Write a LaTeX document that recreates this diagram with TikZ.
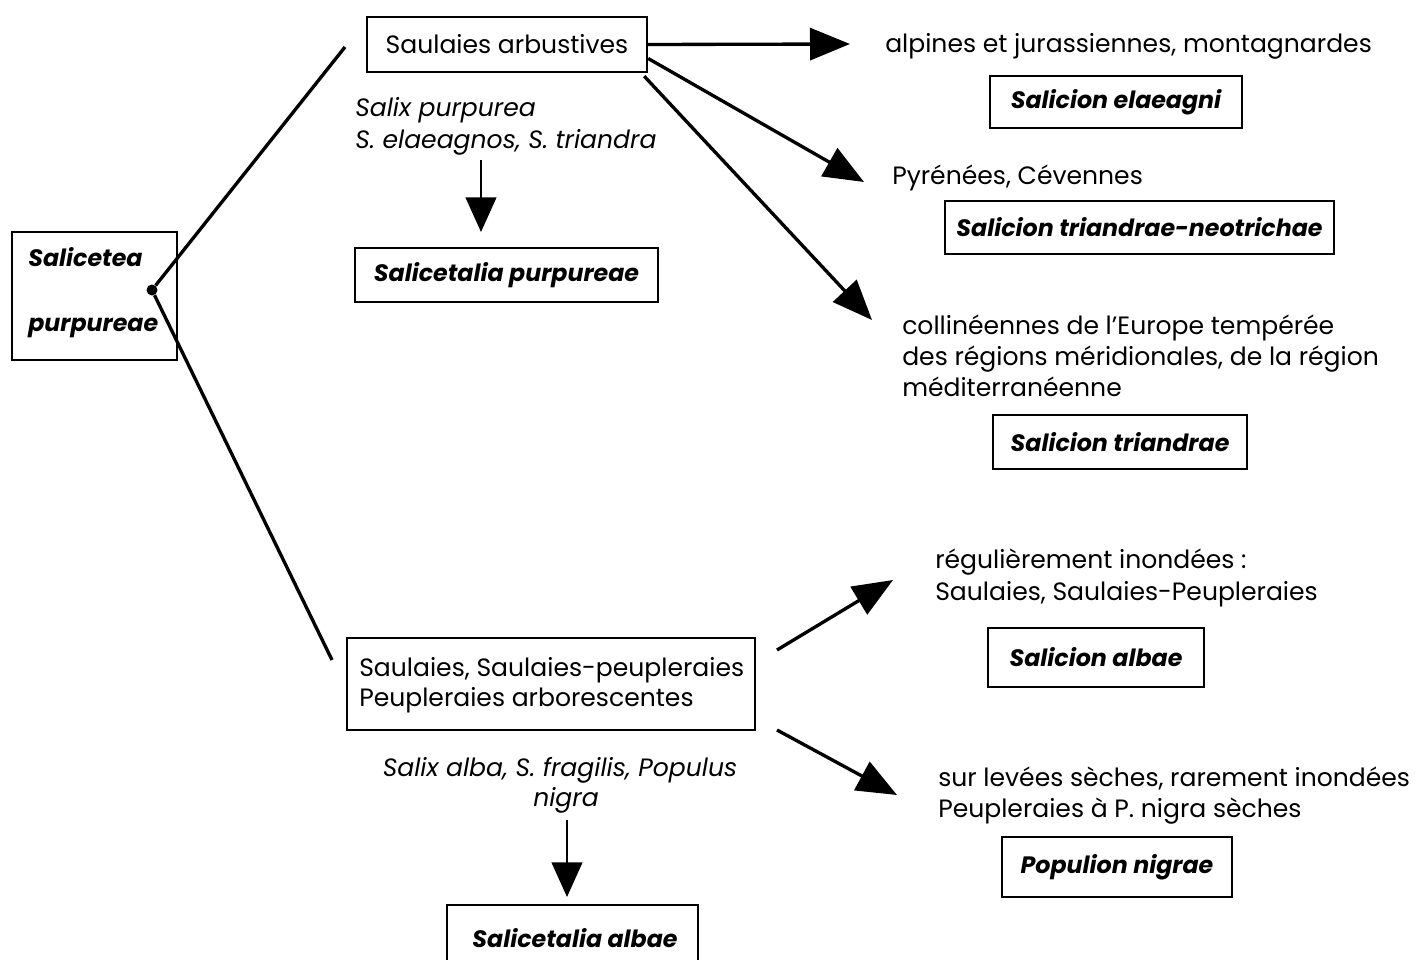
\documentclass[tikz,border=0pt]{standalone}
\usepackage{fontspec}
\setmainfont{Poppins}
\usetikzlibrary{arrows.meta}
\def\px{0.75pt}
\begin{document}
\begin{tikzpicture}[x=0.75pt,y=-0.75pt,
  every node/.style={inner sep=0pt, font=\fontsize{18.8}{22.5}\selectfont},
  box/.style={draw, line width=1.8pt, align=center},
  bi/.style={font=\fontsize{17.8}{22}\selectfont\bfseries\itshape},
  it/.style={font=\fontsize{18.8}{22}\selectfont\itshape},
  conn/.style={line width=2.5pt},
  arr/.style={line width=2.5pt, -{Triangle[length=30pt,width=24pt]}},
  darr/.style={line width=1.7pt, -{Triangle[length=26pt,width=23pt]}}]
\useasboundingbox (0,0) rectangle (1422,960);

% class box
\node[box, minimum width=165*\px, minimum height=128*\px] (cls) at (94.5,296) {};
\node[bi, anchor=mid west] (clsA) at (28,263) {Salicetea};
\node[bi, anchor=mid west] (clsB) at (28,328) {purpureae};
\node[circle, fill, minimum size=11*\px] (dot) at (152,290) {};

% order boxes
\node[box, minimum width=280*\px, minimum height=55*\px] (arb) at (507,44.5) {Saulaies arbustives};
\node[box, minimum width=408*\px, minimum height=92*\px] (ssp) at (551,684) {};
\node[anchor=west, align=left] (sspT) at (359,685)
  {Saulaies, Saulaies-peupleraies\\Peupleraies arborescentes};
\coordinate (arbIn) at (345,47);
\coordinate (sspIn) at (332,660);
\draw[conn] (dot) -- (arbIn);
\draw[conn] (dot) -- (sspIn);

% upper branch
\node[it, anchor=mid west] (sp1) at (355,113) {Salix purpurea};
\node[it, anchor=mid west] (sp2) at (355,145) {S. elaeagnos, S. triandra};
\node[box, bi, minimum width=303*\px, minimum height=54*\px] (sp) at (506.5,275) {Salicetalia purpureae};
\coordinate (spTop) at (481,160);
\draw[darr] (spTop) -- (481,232);

\node[anchor=mid west] (t1) at (885,49) {alpines et jurassiennes, montagnardes};
\node[box, bi, minimum width=252*\px, minimum height=52*\px] (se) at (1116,102) {Salicion elaeagni};
\node[anchor=mid west] (t2) at (892,181) {Pyrénées, Cévennes};
\node[box, bi, minimum width=389*\px, minimum height=53*\px] (stn) at (1139.5,227.5) {Salicion triandrae-neotrichae};
\node[anchor=mid west] (t3a) at (902,331) {collinéennes de l'Europe tempérée};
\node[anchor=mid west] (t3b) at (902,362) {des régions méridionales, de la région};
\node[anchor=mid west] (t3c) at (902,393) {méditerranéenne};
\node[box, bi, minimum width=254*\px, minimum height=54*\px] (st) at (1120,442) {Salicion triandrae};

\coordinate (h1) at (850,44);
\coordinate (h2) at (864,182);
\coordinate (h3) at (872,320);
\draw[arr] (arb.east) -- (h1);
\draw[arr] ([yshift=-14*\px]arb.east) -- (h2);
\draw[arr] ([xshift=-4*\px,yshift=-3*\px]arb.south east) -- (h3);

% lower branch
\node[it] (sa1) at (560,770) {Salix alba, S. fragilis, Populus};
\node[it] (sa2) at (566,800) {nigra};
\node[box, minimum width=251*\px, minimum height=64*\px] (salb) at (572.5,937) {};
\node[bi] (salbT) at (575,938) {Salicetalia albae};
\coordinate (saTop) at (567,820);
\draw[darr] (saTop) -- (567,897);

\node[anchor=mid west] (t4a) at (935,565) {régulièrement inondées :};
\node[anchor=mid west] (t4b) at (935,597) {Saulaies, Saulaies-Peupleraies};
\node[box, bi, minimum width=216*\px, minimum height=59*\px] (sa) at (1096,657.5) {Salicion albae};
\node[anchor=mid west] (t5a) at (938,783) {sur levées sèches, rarement inondées};
\node[anchor=mid west] (t5b) at (938,814) {Peupleraies à P. nigra sèches};
\node[box, bi, minimum width=230*\px, minimum height=60*\px] (pn) at (1117,867) {Populion nigrae};

\coordinate (l1) at (777,650);
\coordinate (l2) at (777,730);
\draw[arr] (l1) -- (893,580);
\draw[arr] (l2) -- (897,795);
\end{tikzpicture}
\end{document}
